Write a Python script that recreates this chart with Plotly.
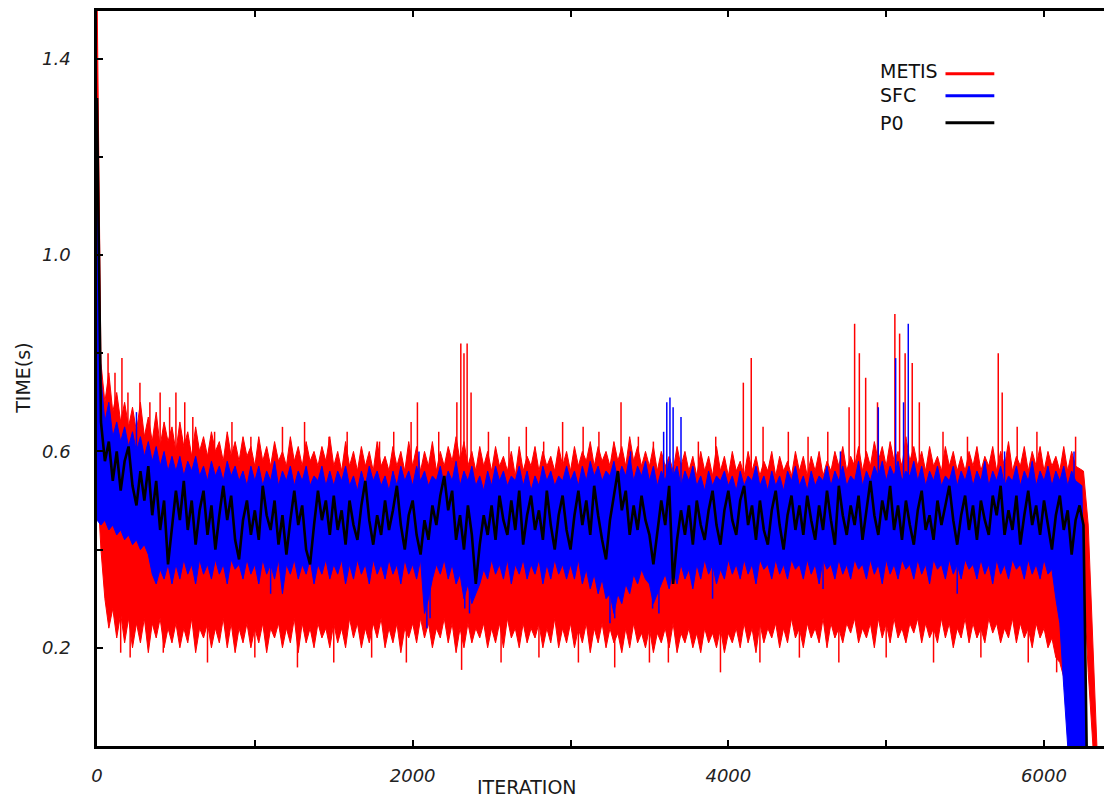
import plotly.graph_objects as go

# ---------------- data ----------------
grid_iter = list(range(0, 6201, 25))

# METIS: upper / lower envelope of the noisy trace (per 25 iterations)
metis_iter = grid_iter + [6250, 6280, 6310, 6335]
metis_max = [
    1.55, 0.78, 0.70, 0.76, 0.68, 0.72, 0.66, 0.70, 0.65, 0.69, 0.64, 0.70, 0.63, 0.67, 0.62, 0.68, 0.61, 0.66, 0.62, 0.65,
    0.60, 0.66, 0.61, 0.64, 0.59, 0.65, 0.60, 0.63, 0.59, 0.64, 0.60, 0.62, 0.58, 0.64, 0.59, 0.62, 0.58, 0.63, 0.59, 0.61,
    0.57, 0.63, 0.58, 0.61, 0.57, 0.62, 0.58, 0.60, 0.57, 0.63, 0.58, 0.61, 0.57, 0.62, 0.58, 0.60, 0.57, 0.61, 0.58, 0.63,
    0.57, 0.60, 0.56, 0.62, 0.57, 0.60, 0.56, 0.61, 0.57, 0.60, 0.56, 0.62, 0.57, 0.59, 0.56, 0.61, 0.57, 0.60, 0.56, 0.62,
    0.57, 0.61, 0.56, 0.60, 0.57, 0.62, 0.56, 0.60, 0.57, 0.61, 0.58, 0.63, 0.58, 0.62, 0.57, 0.60, 0.56, 0.61, 0.57, 0.60,
    0.56, 0.61, 0.57, 0.59, 0.56, 0.60, 0.55, 0.61, 0.56, 0.59, 0.57, 0.61, 0.56, 0.60, 0.57, 0.59, 0.56, 0.61, 0.57, 0.60,
    0.56, 0.61, 0.57, 0.60, 0.58, 0.62, 0.57, 0.61, 0.58, 0.60, 0.57, 0.62, 0.58, 0.61, 0.57, 0.63, 0.58, 0.61, 0.57, 0.60,
    0.57, 0.61, 0.56, 0.60, 0.57, 0.59, 0.56, 0.61, 0.57, 0.60, 0.56, 0.59, 0.55, 0.60, 0.56, 0.59, 0.55, 0.61, 0.56, 0.59,
    0.55, 0.60, 0.56, 0.58, 0.55, 0.60, 0.56, 0.59, 0.55, 0.58, 0.56, 0.60, 0.55, 0.59, 0.56, 0.58, 0.55, 0.60, 0.56, 0.59,
    0.55, 0.59, 0.56, 0.60, 0.55, 0.58, 0.56, 0.60, 0.57, 0.61, 0.56, 0.59, 0.57, 0.61, 0.56, 0.60, 0.57, 0.62, 0.58, 0.61,
    0.57, 0.62, 0.58, 0.60, 0.57, 0.63, 0.58, 0.61, 0.57, 0.60, 0.56, 0.61, 0.57, 0.59, 0.56, 0.61, 0.57, 0.60, 0.56, 0.59,
    0.56, 0.60, 0.57, 0.61, 0.56, 0.59, 0.57, 0.61, 0.56, 0.60, 0.57, 0.62, 0.56, 0.59, 0.57, 0.61, 0.56, 0.60, 0.57, 0.61,
    0.56, 0.60, 0.57, 0.59, 0.56, 0.61, 0.56, 0.60, 0.57,
    0.56, 0.45, 0.22, 0.0,
]
metis_min = [
    0.55, 0.40, 0.30, 0.24, 0.28, 0.22, 0.27, 0.21, 0.26, 0.20, 0.25, 0.21, 0.26, 0.19, 0.25, 0.22, 0.26, 0.20, 0.24, 0.21,
    0.25, 0.20, 0.24, 0.21, 0.26, 0.19, 0.24, 0.22, 0.25, 0.20, 0.24, 0.21, 0.26, 0.20, 0.25, 0.19, 0.24, 0.21, 0.25, 0.20,
    0.24, 0.21, 0.25, 0.19, 0.24, 0.22, 0.25, 0.20, 0.24, 0.21, 0.26, 0.19, 0.25, 0.21, 0.24, 0.20, 0.25, 0.22, 0.24, 0.20,
    0.25, 0.21, 0.24, 0.20, 0.26, 0.22, 0.25, 0.20, 0.24, 0.21, 0.25, 0.22, 0.26, 0.20, 0.24, 0.21, 0.25, 0.19, 0.24, 0.22,
    0.25, 0.21, 0.26, 0.22, 0.25, 0.20, 0.24, 0.22, 0.26, 0.21, 0.25, 0.19, 0.24, 0.20, 0.25, 0.21, 0.24, 0.22, 0.25, 0.20,
    0.24, 0.21, 0.25, 0.20, 0.26, 0.22, 0.24, 0.20, 0.25, 0.21, 0.24, 0.22, 0.25, 0.20, 0.24, 0.21, 0.26, 0.20, 0.24, 0.21,
    0.25, 0.20, 0.24, 0.21, 0.25, 0.19, 0.24, 0.21, 0.25, 0.20, 0.24, 0.21, 0.23, 0.19, 0.24, 0.20, 0.25, 0.21, 0.23, 0.20,
    0.24, 0.19, 0.23, 0.21, 0.24, 0.20, 0.25, 0.19, 0.23, 0.21, 0.24, 0.20, 0.23, 0.19, 0.24, 0.21, 0.23, 0.20, 0.24, 0.19,
    0.23, 0.21, 0.24, 0.20, 0.25, 0.21, 0.24, 0.19, 0.25, 0.21, 0.24, 0.22, 0.25, 0.20, 0.24, 0.21, 0.26, 0.22, 0.24, 0.20,
    0.25, 0.22, 0.24, 0.21, 0.26, 0.20, 0.25, 0.22, 0.24, 0.21, 0.25, 0.23, 0.26, 0.21, 0.24, 0.22, 0.25, 0.20, 0.26, 0.22,
    0.25, 0.21, 0.26, 0.22, 0.24, 0.21, 0.25, 0.23, 0.26, 0.21, 0.25, 0.22, 0.24, 0.21, 0.26, 0.22, 0.25, 0.20, 0.24, 0.22,
    0.26, 0.21, 0.25, 0.22, 0.24, 0.21, 0.26, 0.23, 0.25, 0.21, 0.24, 0.22, 0.26, 0.21, 0.25, 0.22, 0.24, 0.20, 0.25, 0.22,
    0.24, 0.20, 0.22, 0.18, 0.17, 0.14, 0.08, 0.04, 0.02,
    0.35, 0.15, 0.0, 0.0,
]
# narrow METIS excursions (iteration, value)
metis_peak_iter = [70, 114, 158, 196, 272, 335, 400, 460, 500, 556, 607, 745, 855, 975,
                   1175, 1315, 1470, 1585, 1790, 1880, 1990, 2030, 2165, 2280, 2305,
                   2325, 2345, 2370, 2480, 2610, 2720, 2830, 2950, 3080, 3180, 3320,
                   3430, 3525, 3810, 3920, 4095, 4145, 4220, 4380, 4505, 4630, 4765,
                   4800, 4830, 4870, 4945, 5055, 5085, 5120, 5165, 5210, 5360, 5515,
                   5710, 5735, 5830, 5955, 6200]
metis_peak_val = [0.80, 0.76, 0.79, 0.72, 0.74, 0.70, 0.72, 0.69, 0.72, 0.70, 0.67, 0.64,
                  0.66, 0.63, 0.65, 0.66, 0.63, 0.64, 0.62, 0.64, 0.66, 0.70, 0.64, 0.70,
                  0.82, 0.80, 0.82, 0.72, 0.64, 0.63, 0.65, 0.62, 0.66, 0.65, 0.64, 0.70,
                  0.63, 0.62, 0.62, 0.63, 0.74, 0.79, 0.65, 0.64, 0.63, 0.64, 0.69, 0.86,
                  0.80, 0.75, 0.70, 0.88, 0.84, 0.80, 0.78, 0.70, 0.64, 0.63, 0.80, 0.72,
                  0.65, 0.64, 0.63]
metis_dip_iter = [150, 210, 420, 700, 1000, 1270, 1500, 1740, 1960, 2310, 2560, 2800,
                  3050, 3280, 3500, 3620, 3950, 4200, 4450, 4700, 5000, 5300, 5600,
                  5900, 6080]
metis_dip_val = [0.19, 0.18, 0.19, 0.17, 0.18, 0.16, 0.17, 0.18, 0.17, 0.155, 0.17, 0.18,
                 0.17, 0.16, 0.17, 0.17, 0.15, 0.17, 0.18, 0.17, 0.18, 0.17, 0.18,
                 0.17, 0.15]

# SFC: upper / lower envelope (per 25 iterations)
sfc_iter = grid_iter + [6240, 6270]
sfc_max = [
    1.10, 0.75, 0.66, 0.70, 0.63, 0.66, 0.62, 0.65, 0.61, 0.64, 0.60, 0.63, 0.59, 0.62, 0.58, 0.61, 0.57, 0.60, 0.56, 0.59,
    0.56, 0.59, 0.55, 0.58, 0.56, 0.59, 0.55, 0.57, 0.54, 0.58, 0.55, 0.57, 0.54, 0.58, 0.55, 0.57, 0.54, 0.56, 0.53, 0.57,
    0.54, 0.57, 0.53, 0.56, 0.54, 0.58, 0.53, 0.56, 0.54, 0.57, 0.53, 0.56, 0.54, 0.57, 0.53, 0.55, 0.54, 0.57, 0.53, 0.56,
    0.53, 0.56, 0.54, 0.57, 0.53, 0.55, 0.52, 0.56, 0.53, 0.57, 0.54, 0.56, 0.53, 0.55, 0.52, 0.56, 0.53, 0.57, 0.54, 0.56,
    0.53, 0.57, 0.54, 0.56, 0.53, 0.55, 0.54, 0.57, 0.53, 0.56, 0.54, 0.58, 0.53, 0.56, 0.54, 0.57, 0.53, 0.55, 0.52, 0.56,
    0.53, 0.57, 0.54, 0.56, 0.53, 0.55, 0.54, 0.57, 0.53, 0.56, 0.52, 0.55, 0.53, 0.57, 0.54, 0.56, 0.53, 0.55, 0.54, 0.57,
    0.54, 0.56, 0.53, 0.57, 0.54, 0.58, 0.55, 0.57, 0.54, 0.56, 0.55, 0.58, 0.54, 0.57, 0.55, 0.59, 0.54, 0.57, 0.55, 0.58,
    0.54, 0.57, 0.53, 0.56, 0.54, 0.58, 0.55, 0.57, 0.53, 0.56, 0.54, 0.57, 0.53, 0.55, 0.52, 0.56, 0.53, 0.55, 0.54, 0.56,
    0.53, 0.55, 0.52, 0.56, 0.53, 0.55, 0.54, 0.57, 0.53, 0.55, 0.52, 0.56, 0.53, 0.55, 0.52, 0.56, 0.54, 0.57, 0.53, 0.55,
    0.52, 0.56, 0.53, 0.55, 0.54, 0.57, 0.53, 0.56, 0.54, 0.57, 0.53, 0.55, 0.54, 0.58, 0.53, 0.56, 0.54, 0.57, 0.55, 0.58,
    0.54, 0.57, 0.55, 0.58, 0.54, 0.56, 0.55, 0.58, 0.54, 0.57, 0.53, 0.56, 0.54, 0.57, 0.53, 0.55, 0.54, 0.57, 0.53, 0.56,
    0.54, 0.57, 0.53, 0.56, 0.54, 0.58, 0.53, 0.56, 0.54, 0.57, 0.53, 0.55, 0.54, 0.57, 0.53, 0.56, 0.54, 0.58, 0.53, 0.56,
    0.54, 0.57, 0.53, 0.56, 0.54, 0.57, 0.53, 0.56, 0.54,
    0.53, 0.0,
]
sfc_min = [
    0.46, 0.45, 0.46, 0.44, 0.45, 0.43, 0.44, 0.42, 0.43, 0.41, 0.42, 0.40, 0.41, 0.39, 0.35, 0.33, 0.36, 0.34, 0.37, 0.33,
    0.37, 0.34, 0.38, 0.35, 0.37, 0.33, 0.38, 0.35, 0.37, 0.34, 0.38, 0.35, 0.37, 0.33, 0.38, 0.36, 0.37, 0.34, 0.38, 0.35,
    0.37, 0.33, 0.38, 0.35, 0.37, 0.34, 0.38, 0.31, 0.37, 0.35, 0.38, 0.34, 0.37, 0.35, 0.38, 0.33, 0.37, 0.35, 0.38, 0.34,
    0.37, 0.35, 0.38, 0.33, 0.37, 0.34, 0.38, 0.35, 0.37, 0.33, 0.38, 0.35, 0.37, 0.34, 0.38, 0.35, 0.37, 0.33, 0.38, 0.35,
    0.37, 0.34, 0.38, 0.27, 0.30, 0.34, 0.37, 0.35, 0.38, 0.34, 0.37, 0.33, 0.35, 0.30, 0.33, 0.29, 0.31, 0.33, 0.36, 0.34,
    0.38, 0.35, 0.37, 0.34, 0.38, 0.33, 0.37, 0.35, 0.38, 0.34, 0.37, 0.35, 0.38, 0.33, 0.37, 0.34, 0.38, 0.35, 0.37, 0.34,
    0.37, 0.34, 0.38, 0.33, 0.36, 0.32, 0.35, 0.31, 0.34, 0.30, 0.31, 0.27, 0.31, 0.29, 0.33, 0.31, 0.35, 0.33, 0.36, 0.34,
    0.33, 0.29, 0.31, 0.33, 0.35, 0.32, 0.36, 0.33, 0.37, 0.34, 0.36, 0.32, 0.37, 0.34, 0.38, 0.35, 0.37, 0.33, 0.36, 0.34,
    0.38, 0.35, 0.37, 0.34, 0.38, 0.35, 0.37, 0.33, 0.38, 0.36, 0.37, 0.34, 0.38, 0.35, 0.37, 0.34, 0.38, 0.36, 0.37, 0.34,
    0.38, 0.35, 0.37, 0.33, 0.38, 0.36, 0.37, 0.34, 0.38, 0.35, 0.37, 0.34, 0.38, 0.36, 0.37, 0.34, 0.38, 0.35, 0.37, 0.33,
    0.38, 0.35, 0.37, 0.34, 0.38, 0.36, 0.37, 0.34, 0.38, 0.35, 0.37, 0.33, 0.38, 0.36, 0.37, 0.34, 0.38, 0.35, 0.37, 0.34,
    0.38, 0.36, 0.37, 0.34, 0.38, 0.35, 0.37, 0.33, 0.38, 0.35, 0.37, 0.34, 0.38, 0.36, 0.37, 0.34, 0.38, 0.35, 0.37, 0.34,
    0.38, 0.35, 0.36, 0.30, 0.25, 0.12, 0.0, 0.0, 0.0,
    0.0, 0.0,
]
sfc_peak_iter = [250, 2040, 3380, 3590, 3610, 3630, 3650, 3700, 4710, 4950, 5060, 5110,
                 5140, 5750, 6190]
sfc_peak_val = [0.68, 0.60, 0.60, 0.64, 0.70, 0.71, 0.69, 0.67, 0.60, 0.69, 0.79, 0.70,
                0.86, 0.60, 0.60]
sfc_dip_iter = [1100, 2090, 2110, 2330, 2360, 3250, 3280, 3520, 3560, 3900, 4600, 5450]
sfc_dip_val = [0.31, 0.24, 0.26, 0.28, 0.27, 0.25, 0.26, 0.28, 0.27, 0.30, 0.32, 0.31]

# P0 trace (per 25 iterations)
p0_iter = list(range(0, 6251, 25)) + [6270]
p0_time = [
    1.32, 0.66, 0.58, 0.62, 0.54, 0.60, 0.52, 0.58, 0.61, 0.53, 0.49, 0.56, 0.50, 0.57, 0.47, 0.54, 0.44, 0.50, 0.37, 0.45,
    0.52, 0.46, 0.54, 0.44, 0.50, 0.41, 0.48, 0.52, 0.43, 0.49, 0.40, 0.47, 0.53, 0.46, 0.51, 0.42, 0.38, 0.46, 0.50, 0.43,
    0.48, 0.42, 0.53, 0.47, 0.44, 0.50, 0.41, 0.47, 0.39, 0.46, 0.52, 0.45, 0.49, 0.40, 0.37, 0.45, 0.52, 0.46, 0.50, 0.43,
    0.51, 0.44, 0.48, 0.41, 0.50, 0.45, 0.42, 0.49, 0.54, 0.46, 0.41, 0.47, 0.43, 0.50, 0.44, 0.48, 0.53, 0.45, 0.40, 0.47,
    0.50, 0.43, 0.39, 0.46, 0.42, 0.49, 0.45, 0.51, 0.55, 0.48, 0.52, 0.42, 0.47, 0.40, 0.49, 0.43, 0.33, 0.41, 0.47, 0.43,
    0.49, 0.42, 0.51, 0.46, 0.43, 0.50, 0.44, 0.52, 0.41, 0.47, 0.51, 0.44, 0.48, 0.42, 0.52, 0.45, 0.40, 0.47, 0.51, 0.44,
    0.40, 0.47, 0.52, 0.45, 0.50, 0.43, 0.53, 0.47, 0.42, 0.38, 0.46, 0.51, 0.56, 0.48, 0.52, 0.43, 0.49, 0.44, 0.51, 0.46,
    0.43, 0.37, 0.44, 0.50, 0.45, 0.53, 0.33, 0.42, 0.48, 0.43, 0.49, 0.41, 0.50, 0.45, 0.42, 0.48, 0.52, 0.45, 0.41, 0.48,
    0.52, 0.46, 0.43, 0.50, 0.53, 0.45, 0.49, 0.42, 0.50, 0.44, 0.41, 0.48, 0.52, 0.45, 0.40, 0.47, 0.51, 0.44, 0.49, 0.43,
    0.51, 0.46, 0.42, 0.49, 0.44, 0.52, 0.46, 0.41, 0.53, 0.47, 0.43, 0.49, 0.45, 0.51, 0.42, 0.48, 0.54, 0.47, 0.43, 0.50,
    0.46, 0.53, 0.44, 0.49, 0.42, 0.50, 0.45, 0.41, 0.48, 0.52, 0.44, 0.47, 0.42, 0.50, 0.45, 0.49, 0.53, 0.46, 0.41, 0.47,
    0.51, 0.44, 0.49, 0.42, 0.50, 0.46, 0.43, 0.51, 0.47, 0.53, 0.43, 0.48, 0.44, 0.51, 0.41, 0.47, 0.52, 0.45, 0.49, 0.43,
    0.50, 0.45, 0.40, 0.47, 0.51, 0.44, 0.48, 0.39, 0.46, 0.49, 0.45,
    0.0,
]

series_names = ["METIS", "SFC", "P0"]
x_tick_vals = [0, 2000, 4000, 6000]
x_tick_text = ["0", "2000", "4000", "6000"]
y_tick_vals = [0.2, 0.6, 1.0, 1.4]
y_tick_text = ["0.2", "0.6", "1.0", "1.4"]

# ---------------- figure ----------------
RED = "#ff0000"
BLUE = "#0000ff"
BLACK = "#000000"


def band(xs, hi, lo, color):
    return go.Scatter(
        x=list(xs) + list(xs)[::-1],
        y=list(hi) + list(lo)[::-1],
        fill="toself", fillcolor=color, mode="lines",
        line=dict(color=color, width=1), showlegend=False, hoverinfo="skip",
    )


def bracket(xs, vals, p, pick):
    for i in range(len(xs) - 1):
        if xs[i] <= p <= xs[i + 1]:
            return pick(vals[i], vals[i + 1])
    return vals[-1]


def strokes(xs, env, px, pv, up, color):
    sx, sy = [], []
    for p, v in zip(px, pv):
        if up:
            b = bracket(xs, env, p, min) - 0.01
        else:
            b = bracket(xs, env, p, max) + 0.01
        sx += [p, p, None]
        sy += [b, v, None]
    return go.Scatter(x=sx, y=sy, mode="lines", line=dict(color=color, width=1.5),
                      showlegend=False, hoverinfo="skip")


fig = go.Figure()
fig.add_trace(band(metis_iter, metis_max, metis_min, RED))
fig.add_trace(strokes(metis_iter, metis_max, metis_peak_iter, metis_peak_val, True, RED))
fig.add_trace(strokes(metis_iter, metis_min, metis_dip_iter, metis_dip_val, False, RED))
fig.add_trace(band(sfc_iter, sfc_max, sfc_min, BLUE))
fig.add_trace(strokes(sfc_iter, sfc_max, sfc_peak_iter, sfc_peak_val, True, BLUE))
fig.add_trace(strokes(sfc_iter, sfc_min, sfc_dip_iter, sfc_dip_val, False, BLUE))
fig.add_trace(go.Scatter(x=p0_iter, y=p0_time, mode="lines",
                         line=dict(color=BLACK, width=2.6), showlegend=False))

tick_font = dict(family="DejaVu Sans", size=18, color="#222222", style="italic")
axis_common = dict(
    showline=True, linecolor="black", linewidth=2.5, mirror="ticks",
    ticks="inside", ticklen=6, tickwidth=2, tickcolor="black",
    showgrid=False, zeroline=False, tickfont=tick_font,
)
fig.update_xaxes(range=[0, 6418], tickvals=x_tick_vals, ticktext=x_tick_text,
                 ticklabelstandoff=12,
                 minor=dict(tickvals=[1000, 3000, 5000], ticks="inside", ticklen=6,
                            tickwidth=2, tickcolor="black"),
                 **axis_common)
fig.update_yaxes(range=[0, 1.497], tickvals=y_tick_vals, ticktext=y_tick_text,
                 ticklabelstandoff=20,
                 minor=dict(tickvals=[0.0, 0.4, 0.8, 1.2], ticks="inside", ticklen=6,
                            tickwidth=2, tickcolor="black"),
                 **axis_common)

title_font = dict(family="DejaVu Sans", size=19, color="#1a1a1a")
annotations = [
    dict(text="ITERATION", x=0.4242, y=-0.0556, xref="paper", yref="paper",
         xanchor="center", yanchor="middle", showarrow=False, font=title_font),
    dict(text="TIME(s)", x=-0.0738, y=0.5, xref="paper", yref="paper", textangle=-90,
         xanchor="center", yanchor="middle", showarrow=False, font=title_font),
]
legend_colors = [RED, BLUE, BLACK]
legend_text_y = [0.9186, 0.8860, 0.8480]
legend_line_y = [0.9145, 0.8847, 0.8480]
shapes = []
for name, col, ty, ly in zip(series_names, legend_colors, legend_text_y, legend_line_y):
    annotations.append(dict(text=name, x=0.7707, y=ty, xref="paper", yref="paper",
                            xanchor="left", yanchor="middle", showarrow=False,
                            font=dict(family="DejaVu Sans", size=19, color="#111111")))
    shapes.append(dict(type="line", xref="paper", yref="paper", x0=0.8376, x1=0.8858,
                       y0=ly, y1=ly, line=dict(color=col, width=3)))

fig.update_layout(
    width=1105, height=793,
    margin=dict(l=89, r=0, t=1, b=55),
    plot_bgcolor="white", paper_bgcolor="white",
    showlegend=False,
    annotations=annotations, shapes=shapes,
)

fig.write_html("out.html")
